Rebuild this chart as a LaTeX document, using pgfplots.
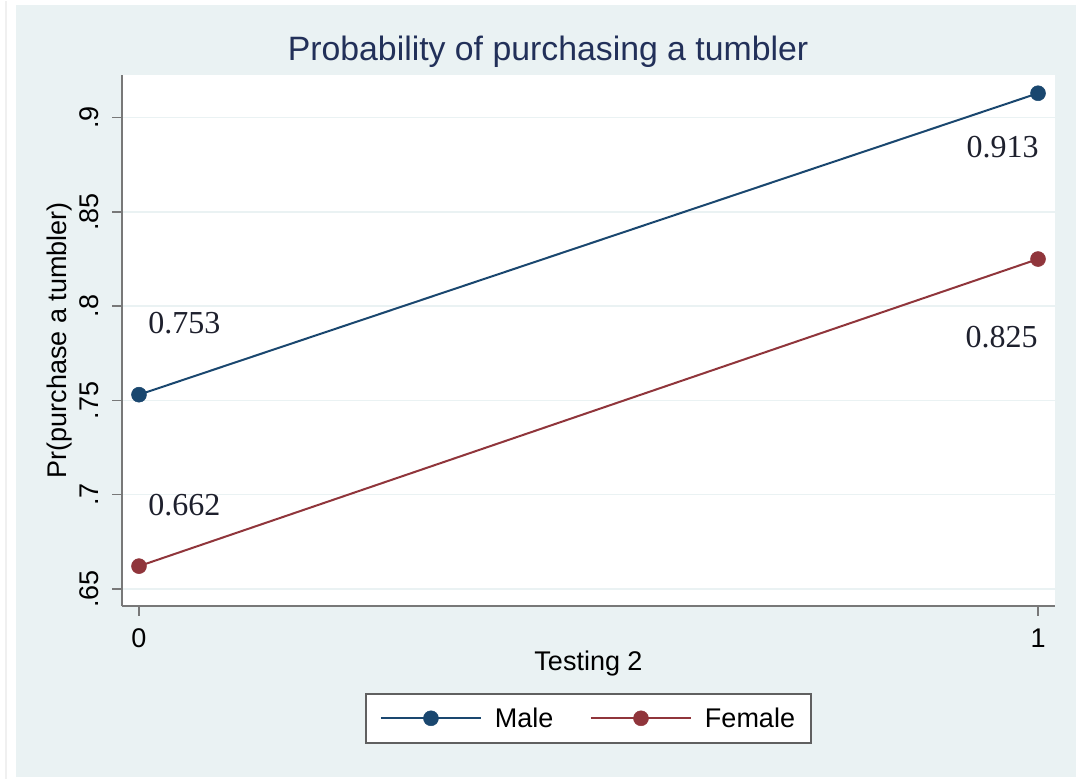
\documentclass[border=0pt]{standalone}
\usepackage{pgfplots}
\pgfplotsset{compat=1.18}
\usepackage{fontspec}
\setmainfont{Liberation Sans}
\newfontfamily\seriffont{Liberation Serif}
\definecolor{bg}{RGB}{234,242,243}
\definecolor{snavy}{RGB}{26,71,111}
\definecolor{smaroon}{RGB}{144,53,59}
\definecolor{ttl}{RGB}{34,48,89}
\definecolor{axgray}{RGB}{120,120,120}
\definecolor{gridc}{RGB}{234,242,243}
\definecolor{lblc}{RGB}{30,32,45}
\begin{document}
\begin{tikzpicture}[x=1pt,y=1pt]
\fill[white] (0,0) rectangle (1076,778);
\fill[bg] (16,2) rectangle (1076,774);
\draw[line width=1.5pt, gray!12] (6,0) -- (6,778);
\begin{axis}[
  at={(122pt,173pt)}, anchor=south west,
  scale only axis, width=933pt, height=531pt,
  xmin=-0.0189, xmax=1.0189, ymin=0.64098, ymax=0.92282,
  axis x line*=bottom, axis y line*=left,
  axis line style={axgray, line width=2.5pt, -},
  axis background/.style={fill=white},
  xtick={0,1}, xticklabels={0,1},
  ytick={0.65,0.7,0.75,0.8,0.85,0.9},
  yticklabels={.65,.7,.75,.8,.85,.9},
  /pgf/number format/assume math mode=true,
  tick align=outside,
  major tick length=10pt,
  tick style={axgray, line width=1.5pt},
  ymajorgrids, grid style={gridc, line width=1.5pt},
  font=\fontsize{27}{32}\selectfont,
  xticklabel style={anchor=base, inner sep=0pt, yshift=-32pt},
  yticklabel style={xshift=-14pt, rotate=90, anchor=base, inner sep=0pt},
  title={Probability of purchasing a tumbler},
  title style={at={(axis description cs:0.4566,1.0151)}, anchor=base, font=\fontsize{33.8}{40}\selectfont, text=ttl, inner sep=0pt},
  xlabel={Testing 2},
  every axis x label/.style={at={(axis description cs:0.5,-0.1224)}, anchor=base},
  ylabel={Pr(purchase a tumbler)},
  every axis y label/.style={at={(axis description cs:-0.0665,0.5)}, rotate=90, anchor=center},
  legend columns=2,
  legend image code/.code={\draw[#1, mark repeat=2, mark phase=2] plot coordinates {(0pt,0pt) (50pt,0pt) (100pt,0pt)};},
  legend style={at={(axis description cs:0.5,-0.2119)}, anchor=center, draw=axgray!80!black, line width=1.8pt, fill=white,
    inner xsep=14pt, inner ysep=12pt, nodes={inner sep=2pt},
    font=\fontsize{27}{32}\selectfont,
    /tikz/every odd column/.append style={column sep=11pt},
    /tikz/every even column/.append style={column sep=34.5pt}},
]
\addplot[snavy, line width=2pt, mark=*, mark size=7.5pt, mark options={solid, fill=snavy, draw=snavy, line width=0.5pt}] coordinates {(0,0.753) (1,0.913)};
\addlegendentry{Male}
\addplot[smaroon, line width=2pt, mark=*, mark size=7.5pt, mark options={solid, fill=smaroon, draw=smaroon, line width=0.5pt}] coordinates {(0,0.662) (1,0.825)};
\addlegendentry{Female}
\node[font=\seriffont\fontsize{32}{38}\selectfont, anchor=base, text=lblc] at (axis cs:0.0506,0.7853) {0.753};
\node[font=\seriffont\fontsize{32}{38}\selectfont, anchor=base, text=lblc] at (axis cs:0.0506,0.6887) {0.662};
\node[font=\seriffont\fontsize{32}{38}\selectfont, anchor=base, text=lblc] at (axis cs:0.9605,0.8788) {0.913};
\node[font=\seriffont\fontsize{32}{38}\selectfont, anchor=base, text=lblc] at (axis cs:0.9594,0.7779) {0.825};
\end{axis}
\end{tikzpicture}
\end{document}
